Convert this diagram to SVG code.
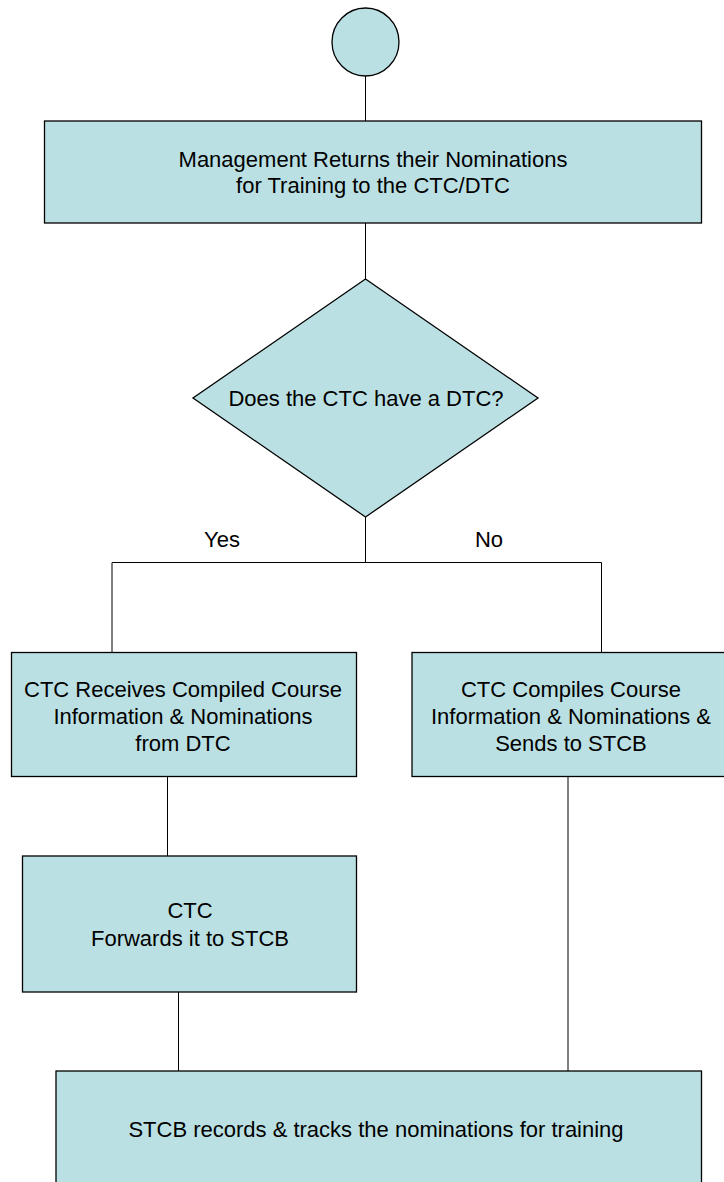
<svg xmlns="http://www.w3.org/2000/svg" width="724" height="1182" viewBox="0 0 724 1182">
<style>
.n{fill:#BBE0E3;stroke:#000;stroke-width:1.3}
.c{fill:none;stroke:#000;stroke-width:1}
text{font-family:"Liberation Sans",Arial,sans-serif;font-size:22px;fill:#000;text-anchor:middle}
</style>
<rect width="724" height="1182" fill="#fff"/>
<g id="connectors">
<line class="c" x1="365.5" y1="76" x2="365.5" y2="121"/>
<line class="c" x1="365.5" y1="223" x2="365.5" y2="279"/>
<polyline class="c" points="365.5,517 365.5,562.5"/>
<polyline class="c" points="112,652 112,562.5 601.5,562.5 601.5,652"/>
<line class="c" x1="167.5" y1="777" x2="167.5" y2="856"/>
<line class="c" x1="178.5" y1="992" x2="178.5" y2="1071"/>
<line class="c" x1="568" y1="777" x2="568" y2="1071"/>
<text x="222" y="546.5">Yes</text>
<text x="489" y="546.5">No</text>
</g>
<g id="start"><ellipse class="n" cx="365.5" cy="42" rx="33.5" ry="34"/></g>
<g id="mgmt">
<rect class="n" x="44.5" y="121" width="657" height="102"/>
<text x="373" y="167">Management Returns their Nominations</text>
<text x="373" y="193">for Training to the CTC/DTC</text>
</g>
<g id="decision">
<polygon class="n" points="365.5,279 538,398 365.5,517 193,398"/>
<text x="366" y="406">Does the CTC have a DTC?</text>
</g>
<g id="yesbox">
<rect class="n" x="11.5" y="652.5" width="345" height="124"/>
<text x="183" y="696.5">CTC Receives Compiled Course</text>
<text x="183" y="723.5">Information &amp; Nominations</text>
<text x="183" y="750.5">from DTC</text>
</g>
<g id="nobox">
<rect class="n" x="412" y="652.5" width="318" height="124"/>
<text x="571" y="696.5">CTC Compiles Course</text>
<text x="571" y="723.5">Information &amp; Nominations &amp;</text>
<text x="571" y="750.5">Sends to STCB</text>
</g>
<g id="forward">
<rect class="n" x="22.5" y="856" width="334" height="136"/>
<text x="190" y="918">CTC</text>
<text x="190" y="946">Forwards it to STCB</text>
</g>
<g id="stcb">
<rect class="n" x="56" y="1071" width="645.5" height="125"/>
<text x="376" y="1137">STCB records &amp; tracks the nominations for training</text>
</g>
</svg>
